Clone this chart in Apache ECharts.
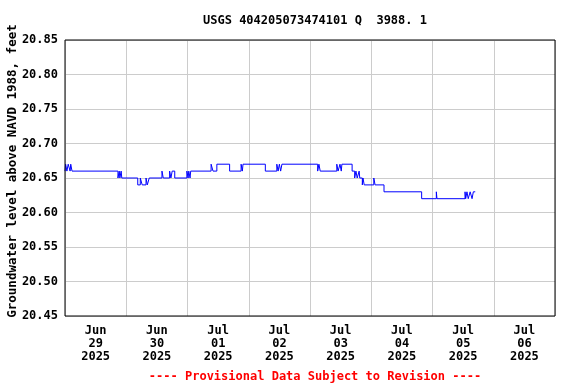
<!DOCTYPE html>
<html>
<head>
<meta charset="utf-8">
<script src="https://cdn.jsdelivr.net/npm/echarts@6/dist/echarts.min.js"></script>
<style>
  html, body { margin: 0; padding: 0; background: #fff; }
  #chart { width: 576px; height: 384px; }
</style>
</head>
<body>
<div id="chart"></div>
<script>
// 观测时间（变化点）和水位
const times = [
  "2025-06-29 00:00", "2025-06-29 00:15", "2025-06-29 00:45", "2025-06-29 01:15", "2025-06-29 02:00",
  "2025-06-29 02:15", "2025-06-29 02:45", "2025-06-29 20:45", "2025-06-29 21:15", "2025-06-29 21:30",
  "2025-06-29 22:00", "2025-06-29 22:15", "2025-06-30 04:30", "2025-06-30 05:30", "2025-06-30 06:15",
  "2025-06-30 07:45", "2025-06-30 08:15", "2025-06-30 09:00", "2025-06-30 14:00", "2025-06-30 14:30",
  "2025-06-30 17:00", "2025-06-30 17:30", "2025-06-30 18:00", "2025-06-30 19:00", "2025-06-30 23:45",
  "2025-07-01 00:15", "2025-07-01 00:30", "2025-07-01 01:00", "2025-07-01 01:15", "2025-07-01 09:15",
  "2025-07-01 10:00", "2025-07-01 11:30", "2025-07-01 16:30", "2025-07-01 21:00", "2025-07-01 21:30",
  "2025-07-01 21:45", "2025-07-02 06:30", "2025-07-02 11:00", "2025-07-02 11:30", "2025-07-02 12:00",
  "2025-07-02 12:30", "2025-07-02 13:00", "2025-07-03 03:00", "2025-07-03 03:30", "2025-07-03 04:00",
  "2025-07-03 10:30", "2025-07-03 11:00", "2025-07-03 11:45", "2025-07-03 12:15", "2025-07-03 12:30",
  "2025-07-03 16:30", "2025-07-03 17:30", "2025-07-03 18:00", "2025-07-03 18:30", "2025-07-03 19:15",
  "2025-07-03 19:30", "2025-07-03 20:30", "2025-07-03 20:45", "2025-07-03 21:15", "2025-07-04 01:00",
  "2025-07-04 01:30", "2025-07-04 05:00", "2025-07-04 19:45", "2025-07-05 01:30", "2025-07-05 01:45",
  "2025-07-05 12:45", "2025-07-05 13:00", "2025-07-05 13:30", "2025-07-05 14:00", "2025-07-05 14:45",
  "2025-07-05 15:30", "2025-07-05 16:00", "2025-07-05 16:45"
];
const levels = [
  20.66, 20.67, 20.66, 20.67, 20.66,
  20.67, 20.66, 20.65, 20.66, 20.65,
  20.66, 20.65, 20.64, 20.65, 20.64,
  20.65, 20.64, 20.65, 20.66, 20.65,
  20.66, 20.65, 20.66, 20.65, 20.66,
  20.65, 20.66, 20.65, 20.66, 20.67,
  20.66, 20.67, 20.66, 20.67, 20.66,
  20.67, 20.66, 20.67, 20.66, 20.67,
  20.66, 20.67, 20.66, 20.67, 20.66,
  20.67, 20.66, 20.67, 20.66, 20.67,
  20.66, 20.65, 20.66, 20.65, 20.66,
  20.65, 20.64, 20.65, 20.64, 20.65,
  20.64, 20.63, 20.62, 20.63, 20.62,
  20.63, 20.62, 20.63, 20.62, 20.63,
  20.62, 20.63, 20.63
];
const dayLabels = [
  "Jun\n29\n2025", "Jun\n30\n2025", "Jul\n01\n2025", "Jul\n02\n2025",
  "Jul\n03\n2025", "Jul\n04\n2025", "Jul\n05\n2025", "Jul\n06\n2025"
];

const font = "DejaVu Sans Mono";
const chart = echarts.init(document.getElementById("chart"));

let option = {
  animation: false,
  title: [
    {
      text: "USGS 404205073474101 Q  3988. 1",
      left: 310, top: 10, textAlign: "center",
      textStyle: { fontFamily: font, fontSize: 12, fontWeight: "bold", color: "#000" },
    },
    {
      text: "---- Provisional Data Subject to Revision ----",
      left: 310, top: 366, textAlign: "center",
      textStyle: { fontFamily: font, fontSize: 12, fontWeight: "bold", color: "#ff0000" },
    },
  ],
  grid: {
    left: 65, right: 21, top: 40, bottom: 68,
    containLabel: false, outerBoundsMode: "none",
    show: true, z: 10, borderColor: "#000", borderWidth: 1,
  },
  xAxis: [
    {
      type: "time",
      min: "2025-06-29 00:00", max: "2025-07-07 00:00",
      interval: 24 * 3600 * 1000,
      axisLine: { show: false },
      axisTick: { show: false },
      axisLabel: { show: false },
      splitLine: { show: true, lineStyle: { color: "#cccccc", width: 1 } },
    },
    {
      type: "category",
      data: dayLabels,
      boundaryGap: true,
      position: "bottom",
      axisLine: { show: false },
      axisTick: { show: false },
      splitLine: { show: false },
      axisLabel: {
        interval: 0, margin: 8, lineHeight: 13,
        fontFamily: font, fontSize: 12, fontWeight: "bold", color: "#000",
      },
    },
  ],
  yAxis: {
    type: "value",
    min: 20.45, max: 20.85, interval: 0.05,
    name: "Groundwater level above NAVD 1988, feet",
    nameLocation: "middle", nameGap: 46, nameRotate: 90,
    nameMoveOverlap: false,
    nameTextStyle: {
      fontFamily: font, fontSize: 12.5, fontWeight: "bold", color: "#000",
      padding: [0, 0, 0, 14],
    },
    axisLine: { show: false },
    axisTick: { show: false },
    axisLabel: {
      margin: 7, fontFamily: font, fontSize: 12, fontWeight: "bold", color: "#000",
      formatter: (v) => v.toFixed(2),
    },
    splitLine: { show: true, lineStyle: { color: "#cccccc", width: 1 } },
  },
  series: [
    {
      type: "line",
      xAxisIndex: 0,
      step: "end",
      symbol: "none",
      lineStyle: { color: "#0000ff", width: 1 },
      data: times.map((t, i) => [t, levels[i]]),
    },
  ],
};
chart.setOption(option);
</script>
</body>
</html>
